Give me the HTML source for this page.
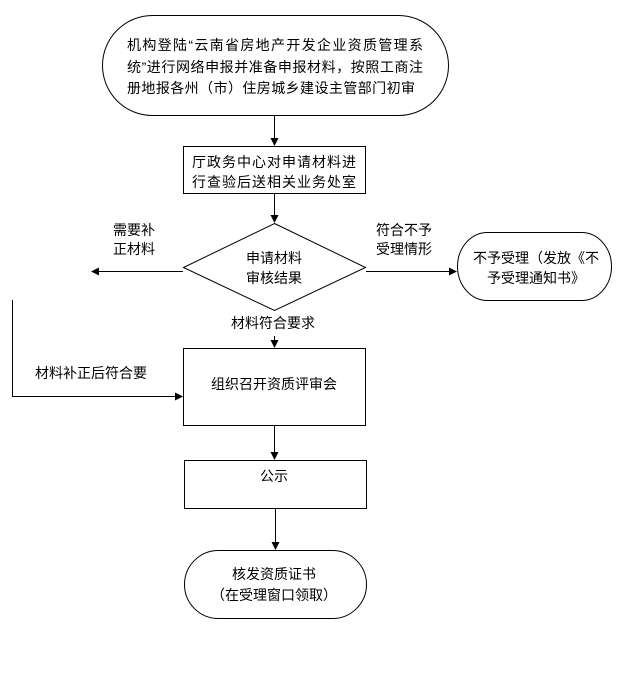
<!DOCTYPE html>
<html><head><meta charset="utf-8"><style>
html,body{margin:0;padding:0;background:#fff;}
svg text{font-family:"Liberation Sans","Noto Sans CJK SC","WenQuanYi Zen Hei",sans-serif;font-size:14px;fill:#000;dominant-baseline:central;}
</style></head><body>
<svg width="644" height="670" viewBox="0 0 644 670" xmlns="http://www.w3.org/2000/svg">
<defs><marker id="a" markerWidth="8" markerHeight="8" refX="7" refY="4" orient="auto" markerUnits="userSpaceOnUse"><path d="M0,0 L8,4 L0,8 z" fill="#000"/></marker></defs>
<g fill="none" stroke="#000" stroke-width="1">
<rect x="102.5" y="15.5" width="346" height="100" rx="50" ry="50"/>
<rect x="183.5" y="146.5" width="182" height="47"/>
<polygon points="274.5,223.5 365.5,267.5 274.5,310.5 183.5,267.5"/>
<rect x="457.5" y="232.5" width="154" height="68" rx="30" ry="34"/>
<rect x="183.5" y="348.5" width="182" height="77"/>
<rect x="184.5" y="460.5" width="182" height="48"/>
<rect x="184.5" y="550.5" width="182" height="68" rx="34" ry="34"/>
<line x1="274.5" y1="115" x2="274.5" y2="145" marker-end="url(#a)"/>
<line x1="274.5" y1="194" x2="274.5" y2="222" marker-end="url(#a)"/>
<line x1="183" y1="271.5" x2="92" y2="271.5" marker-end="url(#a)"/>
<line x1="366" y1="271.5" x2="456" y2="271.5" marker-end="url(#a)"/>
<polyline points="12.5,300 12.5,396.5 182,396.5" marker-end="url(#a)"/>
<line x1="274.5" y1="336" x2="274.5" y2="347" marker-end="url(#a)"/>
<line x1="274.5" y1="426" x2="274.5" y2="459" marker-end="url(#a)"/>
<line x1="275.5" y1="509" x2="275.5" y2="549" marker-end="url(#a)"/>
</g>
<text x="127" y="45" textLength="296">机构登陆“云南省房地产开发企业资质管理系</text>
<text x="127" y="67" textLength="296">统”进行网络申报并准备申报材料，按照工商注</text>
<text x="127" y="88" textLength="288">册地报各州（市）住房城乡建设主管部门初审</text>
<text x="192" y="162" textLength="164">厅政务中心对申请材料进</text>
<text x="192" y="182" textLength="164">行查验后送相关业务处室</text>
<text x="274" y="258" text-anchor="middle">申请材料</text>
<text x="274" y="278" text-anchor="middle">审核结果</text>
<text x="113" y="230">需要补</text>
<text x="113" y="249">正材料</text>
<text x="376" y="230">符合不予</text>
<text x="376" y="249">受理情形</text>
<text x="473" y="258">不予受理（发放《不</text>
<text x="487" y="278">予受理通知书》</text>
<text x="35" y="373">材料补正后符合要</text>
<text x="231" y="323">材料符合要求</text>
<text x="274" y="384" text-anchor="middle">组织召开资质评审会</text>
<text x="274" y="476" text-anchor="middle">公示</text>
<text x="274" y="574" text-anchor="middle">核发资质证书</text>
<text x="274" y="595" text-anchor="middle">（在受理窗口领取）</text>
</svg>
</body></html>
